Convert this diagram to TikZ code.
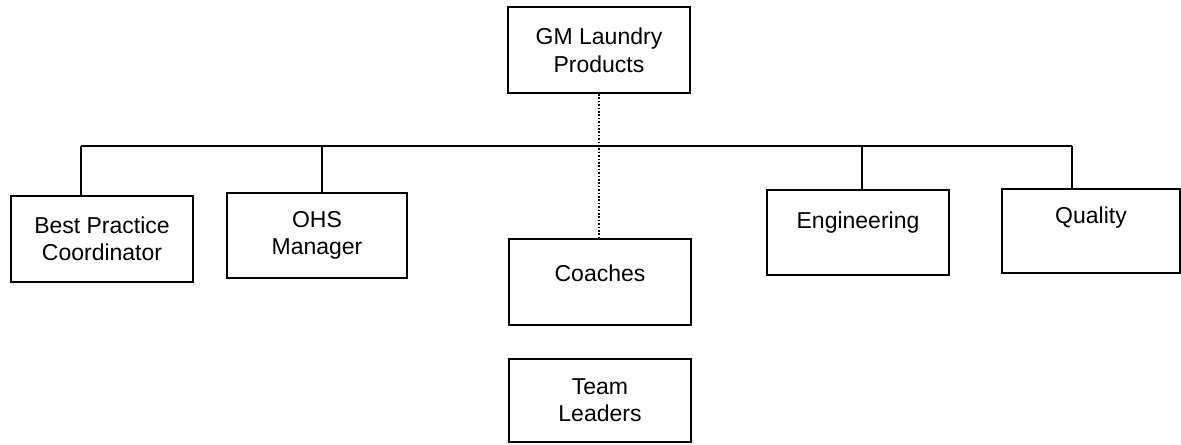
\documentclass[tikz,border=0pt]{standalone}
\usepackage{fontspec}
\setmainfont{Liberation Sans}
\begin{document}
\begin{tikzpicture}[x=0.5pt,y=-0.5pt,
  txt/.style={inner sep=0pt, align=center, font=\fontsize{11.5}{13.5}\selectfont},
  box/.style={draw, line width=1pt, inner sep=0pt, txt},
  conn/.style={line width=1pt},
  dotline/.style={line width=0.8pt, dash pattern=on 0.8pt off 0.9pt}]
\useasboundingbox (0,0) rectangle (1181,444);
\node[box, minimum width=91pt, minimum height=43pt] (gm) at (599,50) {GM Laundry\\[0.3pt]Products};
\node[box, minimum width=91pt, minimum height=43pt] (bp) at (102,239) {Best Practice\\Coordinator};
\node[box, minimum width=90pt, minimum height=42.5pt] (ohs) at (317,235.5) {OHS\\Manager};
\node[box, minimum width=91pt, minimum height=43pt, label={[txt, yshift=4.5pt]center:Coaches}] (coach) at (600,282) {};
\node[box, minimum width=91pt, minimum height=41.5pt] (team) at (600,400.5) {Team\\Leaders};
\node[box, minimum width=91pt, minimum height=42.5pt, label={[txt, yshift=5pt]center:Engineering}] (eng) at (858,232.5) {};
\node[box, minimum width=89pt, minimum height=42pt, label={[txt, yshift=6.5pt]center:Quality}] (qual) at (1091,231) {};
\coordinate (busL) at (81,146);
\coordinate (busR) at (1072,146);
\draw[conn] (busL) -- (busR);
\draw[conn] (busL) -- (busL |- bp.north);
\draw[conn] (322,0 |- busL) -- (322,0 |- ohs.north);
\draw[conn] (862,0 |- busL) -- (862,0 |- eng.north);
\draw[conn] (busR) -- (busR |- qual.north);
\draw[dotline] (gm.south) -- (gm.south |- coach.north);
\end{tikzpicture}
\end{document}
